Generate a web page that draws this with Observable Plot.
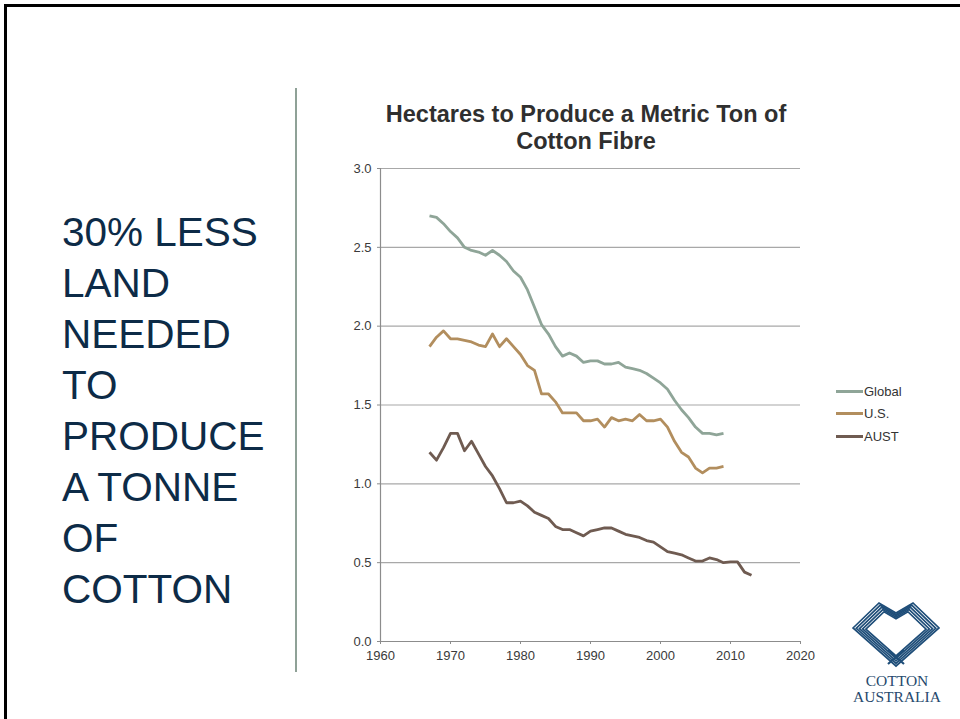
<!DOCTYPE html>
<html>
<head>
<meta charset="utf-8">
<script src="https://cdn.jsdelivr.net/npm/d3@7"></script>
<script src="https://cdn.jsdelivr.net/npm/@observablehq/plot@0.6"></script>
<style>
  html, body { margin: 0; padding: 0; background: #fff; }
  #slide { position: relative; width: 960px; height: 719px; overflow: hidden; background: #fff;
           font-family: "Liberation Sans", Arial, Helvetica, sans-serif; }
  .abs { position: absolute; }
  #headline { left: 62px; top: 207px; font-size: 40.5px; line-height: 51px; color: #0d2b47; white-space: pre; }
  #title { left: 370px; width: 432px; top: 101px; text-align: center; font-weight: bold; font-size: 23.5px;
           line-height: 27px; color: #2f2f2f; }
  .lg { position: absolute; left: 836px; font-size: 13px; color: #333; display: flex; align-items: center; height: 16px; }
  .lg span.sw { display: inline-block; width: 27px; height: 3px; margin-right: 1px; }
</style>
</head>
<body>
<div id="slide">
  <div class="abs" style="left:4px;top:4px;width:956px;height:3px;background:#000"></div>
  <div class="abs" style="left:4px;top:4px;width:3px;height:715px;background:#000"></div>
  <div class="abs" style="left:295px;top:88px;width:2px;height:584px;background:#8fa197"></div>
  <div id="headline" class="abs"></div>
  <div id="title" class="abs"></div>
  <div id="chart" class="abs" style="left:330px;top:158px"></div>
  <div id="legend"></div>
  <svg class="abs" style="left:845px;top:598px" width="110" height="112" viewBox="0 0 110 112">
    <g id="mark" fill="none" stroke="#1f4e79" stroke-width="1.7" stroke-linejoin="miter"></g>
    <text x="52" y="88" text-anchor="middle" font-family="Liberation Serif, Times New Roman, serif" font-size="15.5" fill="#27496d">COTTON</text>
    <text x="52" y="104" text-anchor="middle" font-family="Liberation Serif, Times New Roman, serif" font-size="15.5" fill="#27496d">AUSTRALIA</text>
  </svg>
</div>
<script>
// Hectares of land needed per metric ton of cotton fibre
const years = d3.range(1967, 2014);

const globalHa = [2.70, 2.69, 2.65, 2.60, 2.56, 2.50, 2.48, 2.47, 2.45, 2.48,
                  2.45, 2.41, 2.35, 2.31, 2.23, 2.12, 2.01, 1.95, 1.87, 1.81,
                  1.83, 1.81, 1.77, 1.78, 1.78, 1.76, 1.76, 1.77, 1.74, 1.73,
                  1.72, 1.70, 1.67, 1.64, 1.60, 1.53, 1.47, 1.42, 1.36, 1.32,
                  1.32, 1.31, 1.32];

const usHa = [1.87, 1.93, 1.97, 1.92, 1.92, 1.91, 1.90, 1.88, 1.87, 1.95,
              1.87, 1.92, 1.87, 1.82, 1.75, 1.72, 1.57, 1.57, 1.52, 1.45,
              1.45, 1.45, 1.40, 1.40, 1.41, 1.36, 1.42, 1.40, 1.41, 1.40,
              1.44, 1.40, 1.40, 1.41, 1.36, 1.27, 1.20, 1.17, 1.10, 1.07,
              1.10, 1.10, 1.11];

const austHa = [1.20, 1.15, 1.23, 1.32, 1.32, 1.21, 1.27, 1.19, 1.11, 1.05,
                0.97, 0.88, 0.88, 0.89, 0.86, 0.82, 0.80, 0.78, 0.73, 0.71,
                0.71, 0.69, 0.67, 0.70, 0.71, 0.72, 0.72, 0.70, 0.68, 0.67,
                0.66, 0.64, 0.63, 0.60, 0.57, 0.56, 0.55, 0.53, 0.51, 0.51,
                0.53, 0.52, 0.50, 0.505, 0.505, 0.44, 0.42];

const seriesNames = ["Global", "U.S.", "AUST"];
const seriesColors = ["#8fa598", "#b28e5e", "#6f5b51"];
const seriesValues = [globalHa, usHa, austHa];

const xTicks = [1960, 1970, 1980, 1990, 2000, 2010, 2020];
const yTicks = [0, 0.5, 1.0, 1.5, 2.0, 2.5, 3.0];

const titleLines = ["Hectares to Produce a Metric Ton of", "Cotton Fibre"];
const headlineLines = ["30% LESS", "LAND", "NEEDED", "TO", "PRODUCE", "A TONNE", "OF", "COTTON"];

// tidy rows: one per series per year
const rows = seriesNames.flatMap((name, i) =>
  seriesValues[i].map((v, j) => ({series: name, year: years[j], value: v})));

document.getElementById("headline").textContent = headlineLines.join("\n");
document.getElementById("title").innerHTML = titleLines.join("<br>");

const chart = Plot.plot({
  width: 480,
  height: 513,
  marginLeft: 50,
  marginRight: 10,
  marginTop: 10,
  marginBottom: 30,
  style: {fontFamily: "Liberation Sans, Arial, sans-serif", fontSize: "13px", background: "transparent", overflow: "visible"},
  x: {domain: [1960, 2020]},
  y: {domain: [0, 3]},
  color: {domain: seriesNames, range: seriesColors},
  marks: [
    Plot.ruleY(yTicks.filter(d => d > 0), {stroke: "#a8a8a8", strokeWidth: 1.2}),
    Plot.ruleX([1960], {stroke: "#8c8c8c", strokeWidth: 1.2}),
    Plot.ruleY([0], {stroke: "#8c8c8c", strokeWidth: 1.2}),
    Plot.axisY({ticks: yTicks, tickFormat: d => d.toFixed(1), tickSize: 3, tickPadding: 6,
                stroke: "#8c8c8c", fill: "#3a3a3a", label: null}),
    Plot.axisX({ticks: xTicks, tickFormat: d => String(d), tickSize: 3, tickPadding: 6,
                stroke: "#8c8c8c", fill: "#3a3a3a", label: null}),
    Plot.line(rows, {x: "year", y: "value", z: "series", stroke: "series",
                     strokeWidth: 2.8, strokeLinejoin: "round", strokeLinecap: "butt"})
  ]
});
document.getElementById("chart").appendChild(chart);

// legend to the right of the plot
const legend = document.getElementById("legend");
const legendTops = [383, 405, 428];
seriesNames.forEach((name, i) => {
  const item = document.createElement("div");
  item.className = "lg";
  item.style.top = legendTops[i] + "px";
  item.innerHTML = `<span class="sw" style="background:${seriesColors[i]}"></span>${name}`;
  legend.appendChild(item);
});

// striped diamond emblem
const mark = d3.select("#mark");
const outline = [[8, 30], [34, 5], [51, 15], [68, 5], [94, 30], [51, 68]];
const cx = 51, cy = 34;
for (let k = 0; k < 5; k++) {
  const s = 1 - k * 0.075;
  const pts = outline.map(([px, py]) => [cx + (px - cx) * s, cy + (py - cy) * s]);
  mark.append("path").attr("d", "M" + pts.map(p => p.join(",")).join("L") + "Z");
}
mark.append("path").attr("d", "M43,52L59,66M59,52L43,66").attr("stroke-width", 2.2);
</script>
</body>
</html>
